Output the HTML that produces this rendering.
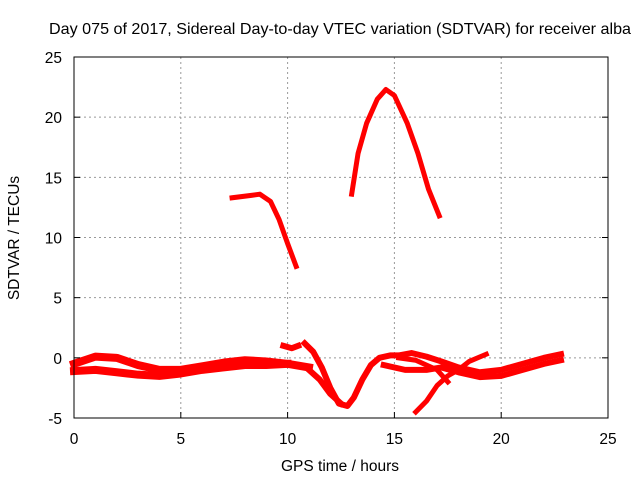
<!DOCTYPE html>
<html><head><meta charset="utf-8"><style>
body{margin:0;background:#fff;width:640px;height:480px;overflow:hidden}
text{font-family:"Liberation Sans",sans-serif;font-size:15.5px;fill:#000}
</style></head><body>
<svg id="chart" width="640" height="480" xmlns="http://www.w3.org/2000/svg">
<text x="340" y="34" text-anchor="middle" style="font-size:16px" textLength="582" lengthAdjust="spacingAndGlyphs">Day 075 of 2017, Sidereal Day-to-day VTEC variation (SDTVAR) for receiver alba</text>
<text x="340" y="471" text-anchor="middle">GPS time / hours</text>
<text transform="translate(19,238) rotate(-90)" text-anchor="middle">SDTVAR / TECUs</text>
<g id="grid"></g><g id="series"></g><g id="axes"></g>
</svg>
<script>
const xTicks=[0,5,10,15,20,25];
const yTicks=[-5,0,5,10,15,20,25];
const tA=[0,1,2,3,4,5,6,7,8,9,10,11];
const vA=[-0.5,0.1,0,-0.6,-1.0,-1.0,-0.7,-0.4,-0.2,-0.3,-0.5,-0.8];
const tB=[0,1,2,3,4,5,6,7,8,9,10];
const vB=[-1.1,-1.0,-1.2,-1.4,-1.5,-1.3,-1.0,-0.8,-0.6,-0.6,-0.5];
const tC=[9.8,10.2,10.5];
const vC=[1.0,0.8,1.0];
const tD=[10.8,11.2,11.6,12.0,12.4,12.8,13.1,13.5,13.9,14.3,14.8,15.2,15.8,16.5,17.2,18,19,20,21,22,22.8];
const vD=[1.2,0.5,-0.8,-2.5,-3.8,-4.0,-3.3,-1.8,-0.6,0.0,0.2,0.2,0.4,0.1,-0.3,-0.8,-1.2,-1.0,-0.5,0.0,0.3];
const tE=[11.0,11.5,12.0,12.5];
const vE=[-1.0,-1.8,-3.0,-3.8];
const tF=[14.5,15.5,16.5,17.2,18,19,20,21,22,22.8];
const vF=[-0.6,-1.0,-1.0,-0.8,-1.2,-1.6,-1.5,-1.0,-0.5,-0.2];
const tG=[16.0,16.5,17,17.5,18,18.5,19.3];
const vG=[-4.5,-3.6,-2.3,-1.5,-1.0,-0.3,0.3];
const tH=[15.2,16.0,17.0,17.5];
const vH=[0.0,-0.2,-1.0,-2.0];
const tP1=[7.4,8.3,8.7,9.2,9.6,10.0,10.4];
const vP1=[13.3,13.5,13.6,13.0,11.5,9.5,7.6];
const tP2=[13.0,13.3,13.7,14.2,14.6,15.0,15.6,16.1,16.6,17.1];
const vP2=[13.6,17,19.5,21.5,22.3,21.8,19.5,17,14,11.8];
const L=74,R=608,T=57,B=418;
const sx=t=>L+(t-0)/25*(R-L);
const sy=v=>B-(v+5)/30*(B-T);
const NS="http://www.w3.org/2000/svg";
const grid=document.getElementById('grid'),axes=document.getElementById('axes'),ser=document.getElementById('series');
function mk(tag,attrs,parent){const e=document.createElementNS(NS,tag);for(const k in attrs)e.setAttribute(k,attrs[k]);parent.appendChild(e);return e;}
xTicks.forEach(t=>{
  if(t>0&&t<25){const g=mk('line',{x1:sx(t),x2:sx(t),y1:T,y2:B,stroke:'#999','stroke-dasharray':'2,3'},grid);
  
  }
  const a=mk('line',{x1:sx(t),x2:sx(t),y1:B,y2:B-6,stroke:'#000'},axes);
  
  
  const lb=mk('text',{x:sx(t),y:B+26,'text-anchor':'middle'},axes);lb.textContent=t;
  
  
});
yTicks.forEach(v=>{
  if(v>-5&&v<25){const g=mk('line',{x1:L,x2:R,y1:sy(v),y2:sy(v),stroke:'#999','stroke-dasharray':'2,3'},grid);
  
  }
  const a=mk('line',{x1:L,x2:L+6,y1:sy(v),y2:sy(v),stroke:'#000'},axes);
  
  
  const a2=mk('line',{x1:R,x2:R-6,y1:sy(v),y2:sy(v),stroke:'#000'},axes);
  
  
  const lb=mk('text',{x:L-12,y:sy(v)+6,'text-anchor':'end'},axes);lb.textContent=v;
  
  
});
const frame=mk('rect',{x:L,y:T,width:R-L,height:B-T,fill:'none',stroke:'#000'},axes);


const all=[[tA,vA,8],[tB,vB,8],[tC,vC,6],[tD,vD,6],[tE,vE,6],[tF,vF,6],[tG,vG,5],[tH,vH,5],[tP1,vP1,5],[tP2,vP2,5]];
all.forEach(([ts,vs,w])=>{
  const p=mk('polyline',{points:ts.map((t,i)=>sx(t)+','+sy(vs[i])).join(' '),fill:'none',stroke:'#f00','stroke-width':w,'stroke-linejoin':'round','stroke-linecap':'square'},ser);
  
  
});
</script>
</body></html>
